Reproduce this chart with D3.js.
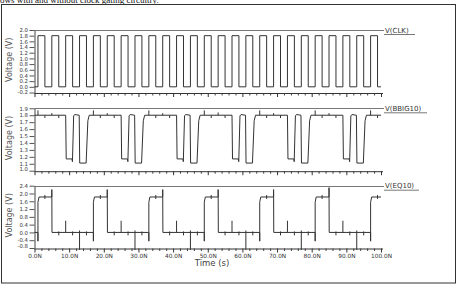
<!DOCTYPE html>
<html><head><meta charset="utf-8">
<script src="https://cdn.jsdelivr.net/npm/d3@7"></script>
<style>body{margin:0;background:#fff;overflow:hidden}</style>
</head><body><svg id="c" width="458" height="285"></svg>
<script>
// ---- data (ns, V) ----
const captionText = "ows with and without clock gating circuitry.";
const signalNames = ["V(CLK)", "V(BBIG10)", "V(EQ10)"];
const xTickLabels = [0,10,20,30,40,50,60,70,80,90,100];
const clkTicks = [-0.2,0.0,0.2,0.4,0.6,0.8,1.0,1.2,1.4,1.6,1.8,2.0];
const bbigTicks = [1.0,1.1,1.2,1.3,1.4,1.5,1.6,1.7,1.8,1.9];
const eqTicks = [-0.8,-0.4,0.0,0.4,0.8,1.2,1.6,2.0,2.4];

const clkRise = [1,5,9,13,17,21,25,29,33,37,41,45,49,53,57,61,65,69,73,77,81,85,89,93,97];
const clkFall = [3,7,11,15,19,23,27,31,35,39,43,47,51,55,59,63,67,71,75,79,83,87,91,95,99];
const clkLow = 0, clkHigh = 1.8;

const bbig = [[0,1.8],
 [9,1.8],[9.15,1.17],[10.8,1.17],[10.95,1.13],[11.3,1.79],[11.6,1.81],[12.9,1.8],[13.05,1.11],[14.9,1.11],[15.4,1.72],[15.8,1.8],
 [25,1.8],[25.15,1.17],[26.8,1.17],[26.95,1.13],[27.3,1.79],[27.6,1.81],[28.9,1.8],[29.05,1.11],[30.9,1.11],[31.4,1.72],[31.8,1.8],
 [41,1.8],[41.15,1.17],[42.8,1.17],[42.95,1.13],[43.3,1.79],[43.6,1.81],[44.9,1.8],[45.05,1.11],[46.9,1.11],[47.4,1.72],[47.8,1.8],
 [57,1.8],[57.15,1.17],[58.8,1.17],[58.95,1.13],[59.3,1.79],[59.6,1.81],[60.9,1.8],[61.05,1.11],[62.9,1.11],[63.4,1.72],[63.8,1.8],
 [73,1.8],[73.15,1.17],[74.8,1.17],[74.95,1.13],[75.3,1.79],[75.6,1.81],[76.9,1.8],[77.05,1.11],[78.9,1.11],[79.4,1.72],[79.8,1.8],
 [89,1.8],[89.15,1.17],[90.8,1.17],[90.95,1.13],[91.3,1.79],[91.6,1.81],[92.9,1.8],[93.05,1.11],[94.9,1.11],[95.4,1.72],[95.8,1.8],
 [100,1.8]];
// glitches on BBIG10: [time, base, tip]
const bbigSpikes = [[1,1.8,1.87],[3,1.8,1.76],[5,1.8,1.83],[7,1.8,1.76],
 [17,1.8,1.87],[19,1.8,1.76],[21,1.8,1.83],[23,1.8,1.76],
 [33,1.8,1.87],[35,1.8,1.76],[37,1.8,1.83],[39,1.8,1.76],
 [49,1.8,1.87],[51,1.8,1.76],[53,1.8,1.84],[55,1.8,1.76],
 [65,1.8,1.87],[67,1.8,1.76],[69,1.8,1.83],[71,1.8,1.76],
 [81,1.8,1.87],[83,1.8,1.76],[85,1.8,1.83],[87,1.8,1.76],
 [97,1.8,1.87],[99,1.8,1.76]];

const eq = [[0,0],
 [1,0],[1,-0.45],[1,1.55],[1.3,1.82],[5,1.82],[5,2.2],[5.05,0],
 [17,0],[17,-0.45],[17,1.55],[17.3,1.82],[21,1.82],[21,2.2],[21.05,0],
 [33,0],[33,-0.45],[33,1.55],[33.3,1.82],[37,1.82],[37,2.2],[37.05,0],
 [49,0],[49,-0.45],[49,1.55],[49.3,1.82],[53,1.82],[53,2.2],[53.05,0],
 [65,0],[65,-0.45],[65,1.55],[65.3,1.82],[69,1.82],[69,2.2],[69.05,0],
 [81,0],[81,-0.45],[81,1.55],[81.3,1.82],[85,1.82],[85,2.3],[85.05,0],
 [97,0],[97,-0.45],[97,1.55],[97.3,1.82],[100,1.82]];
// glitches on EQ10: [time, low, high]
const eqSpikes = [[3,1.72,1.92],[7,-0.15,0.05],[9,0,0.6],[11,-0.15,0.05],[13,-0.9,0.1],[15,-0.15,0.05],
 [19,1.72,1.92],[23,-0.15,0.05],[25,0,0.6],[27,-0.15,0.05],[29,-0.9,0.1],[31,-0.15,0.05],
 [35,1.72,1.92],[39,-0.15,0.05],[41,0,0.6],[43,-0.15,0.05],[45,-0.9,0.1],[47,-0.15,0.05],
 [51,1.72,1.92],[55,-0.15,0.05],[57,0,0.6],[59,-0.15,0.05],[61,-0.9,0.1],[63,-0.15,0.05],
 [67,1.72,1.92],[71,-0.15,0.05],[73,0,0.6],[75,-0.15,0.05],[77,-0.9,0.1],[79,-0.15,0.05],
 [83,1.72,1.92],[87,-0.15,0.05],[89,0,0.6],[91,-0.15,0.05],[93,-0.9,0.1],[95,-0.15,0.05],
 [99,1.72,1.92]];

// ---- drawing ----
const svg = d3.select("#c");
const FONT = "DejaVu Sans, Verdana, sans-serif";

svg.append("text").attr("x",0).attr("y",2.5)
  .attr("font-family","Liberation Serif, Times New Roman, serif").attr("font-size",9)
  .attr("fill","#111").text(captionText);

svg.append("rect").attr("x",1.5).attr("y",4.5).attr("width",454).attr("height",278.5)
  .attr("fill","none").attr("stroke","#333").attr("stroke-width",1);

const x = d3.scaleLinear().domain([0,100]).range([34.5,381]);

const clkPts = [[0,clkLow]];
clkRise.forEach((r,i)=>{ clkPts.push([r,clkLow],[r,clkHigh],[clkFall[i],clkHigh],[clkFall[i],clkLow]); });
clkPts.push([100,clkLow]);

const panels = [
  {name:signalNames[0], domain:[-0.2,2.0], range:[92.5,30], ticks:clkTicks, pts:clkPts, spikes:[], ulEnd:415, xlabels:false, lastShift:0.8},
  {name:signalNames[1], domain:[1.0,1.9], range:[170.7,108.3], ticks:bbigTicks, pts:bbig, spikes:bbigSpikes, ulEnd:427, xlabels:false, lastShift:1.5},
  {name:signalNames[2], domain:[-0.8,2.4], range:[248,185.7], ticks:eqTicks, pts:eq, spikes:eqSpikes, ulEnd:419, xlabels:true, lastShift:2.5}
];

panels.forEach(p=>{
  const y = d3.scaleLinear().domain(p.domain).range(p.range);
  const yTop = p.range[1], yBot = p.range[0];
  const axisY = yBot + 0.5;
  const g = svg.append("g");

  // top frame line
  g.append("line").attr("x1",34.5).attr("x2",384).attr("y1",Math.round(yTop)+0.5).attr("y2",Math.round(yTop)+0.5)
    .attr("stroke","#777").attr("stroke-width",1);

  // left axis
  const ya = g.append("g").attr("transform","translate(34.5,0)")
    .call(d3.axisLeft(y).tickValues(p.ticks).tickSize(5).tickSizeOuter(0).tickFormat(d=>d.toFixed(1)));
  ya.select(".domain").attr("stroke","#444");
  ya.selectAll(".tick line").attr("stroke","#555");
  ya.selectAll(".tick text").attr("font-family",FONT).attr("font-size",5.4).attr("fill","#333").attr("x",-6.5);
  ya.selectAll(".tick").filter(d=>d===p.domain[0]).select("text").attr("dy","0.32em").attr("y",-p.lastShift);

  // bottom axis
  const minor = d3.range(0,101,2).filter(v=>v%10!==0);
  const xaMinor = g.append("g").attr("transform",`translate(0,${axisY})`)
    .call(d3.axisBottom(x).tickValues(minor).tickSize(2.5).tickSizeOuter(0).tickFormat(""));
  xaMinor.select(".domain").remove();
  xaMinor.selectAll(".tick line").attr("stroke","#444");
  const xa = g.append("g").attr("transform",`translate(0,${axisY})`)
    .call(d3.axisBottom(x).tickValues(xTickLabels).tickSize(4).tickSizeOuter(0)
      .tickFormat(p.xlabels ? (d=>d.toFixed(1)+"N") : ""));
  xa.select(".domain").attr("stroke","#333").attr("d",`M34.5,0.5H383`);
  xa.selectAll(".tick line").attr("stroke","#333");
  xa.selectAll(".tick text").attr("font-family",FONT).attr("font-size",5.8).attr("fill","#333").attr("y",5.5);

  // y label
  const yc = (yTop+yBot)/2 - 1.5;
  g.append("text").attr("transform",`translate(11.5,${yc}) rotate(-90)`).attr("text-anchor","middle")
    .attr("font-family",FONT).attr("font-size",8).attr("fill","#555").text("Voltage (V)");

  // signal name
  g.append("text").attr("x",385).attr("y",yTop+2.6).attr("font-family",FONT).attr("font-size",7)
    .attr("fill","#333").text(p.name);
  g.append("line").attr("x1",384).attr("x2",p.ulEnd).attr("y1",yTop+4.5).attr("y2",yTop+4.5)
    .attr("stroke","#555").attr("stroke-width",0.8);

  // waveform
  const line = d3.line().x(d=>x(d[0])).y(d=>y(d[1]));
  g.append("path").datum(p.pts).attr("d",line).attr("fill","none").attr("stroke","#333").attr("stroke-width",1);
  g.selectAll("line.sp").data(p.spikes).join("line").attr("class","sp")
    .attr("x1",d=>x(d[0])).attr("x2",d=>x(d[0])).attr("y1",d=>y(d[1])).attr("y2",d=>y(d[2]))
    .attr("stroke","#333").attr("stroke-width",1);
});

svg.append("text").attr("x",212).attr("y",266).attr("text-anchor","middle")
  .attr("font-family",FONT).attr("font-size",8.5).attr("fill","#444").text("Time (s)");
</script>
</body></html>
